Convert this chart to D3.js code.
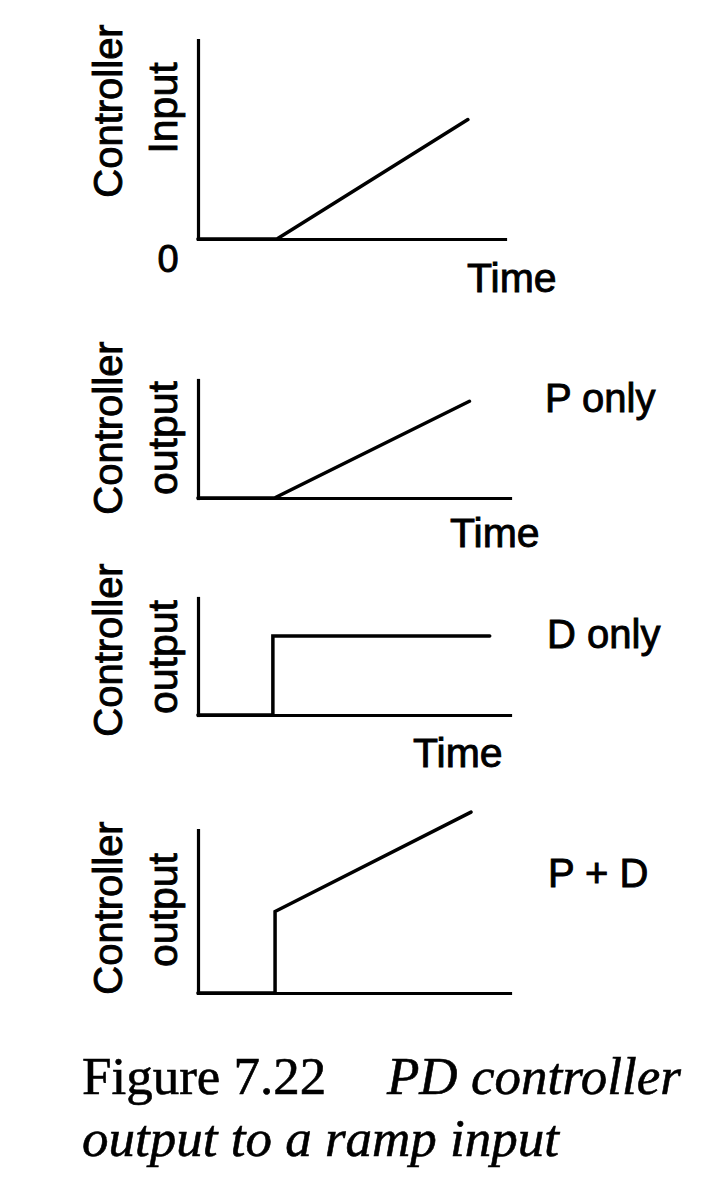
<!DOCTYPE html>
<html>
<head>
<meta charset="utf-8">
<script src="https://cdn.jsdelivr.net/npm/d3@7"></script>
<style>
  html, body { margin: 0; padding: 0; background: #fff; }
  svg { display: block; }
</style>
</head>
<body>
<svg id="chart" width="728" height="1199"></svg>
<script>
// ---- Data (abstract time units 0..10, output normalised to each panel's axis height) ----
const timeDomain = [0, 10];

const inputTime  = [0, 2.53, 8.65];
const inputValue = [0, 0, 0.60];

const pOnlyTime  = [0, 2.45, 8.7];
const pOnlyValue = [0, 0, 0.82];

const dOnlyTime  = [0, 2.4, 2.4, 9.35];
const dOnlyValue = [0, 0, 0.675, 0.675];

const pdTime     = [0, 2.47, 2.47, 8.75];
const pdValue    = [0, 0, 0.50, 1.11];

const yLabelLine1 = ["Controller", "Controller", "Controller", "Controller"];
const yLabelLine2 = ["Input", "output", "output", "output"];
const panelNames  = ["", "P only", "D only", "P + D"];
const xLabels     = ["Time", "Time", "Time", ""];
const zeroLabel   = "0";
const captionA    = "Figure 7.22";
const captionB    = "PD controller";
const captionC    = "output to a ramp input";

// ---- Layout ----
const svg = d3.select("#chart");
const sans = "'Liberation Sans', Arial, Helvetica, sans-serif";
const serif = "'Liberation Serif', 'Times New Roman', serif";

const panels = [
  { t: inputTime, v: inputValue, top: 40,  base: 239, end: 505, yl: 111, yl2: 108,
    name: null, timeX: 467, timeY: 292 },
  { t: pOnlyTime, v: pOnlyValue, top: 380, base: 498, end: 510, yl: 428, yl2: 438,
    name: [545, 412], timeX: 450, timeY: 547 },
  { t: dOnlyTime, v: dOnlyValue, top: 598, base: 715, end: 510, yl: 650, yl2: 657,
    name: [547, 648], timeX: 413, timeY: 767 },
  { t: pdTime,    v: pdValue,    top: 830, base: 993, end: 510, yl: 908, yl2: 910,
    name: [548, 887], timeX: null, timeY: null }
];

const axisX0 = 198;

function sansText(sel, size) {
  return sel.attr("font-family", sans).attr("font-size", size)
    .attr("fill", "#000").attr("stroke", "#000").attr("stroke-width", 0.9);
}

panels.forEach((p, i) => {
  const x = d3.scaleLinear().domain(timeDomain).range([axisX0, 510]);
  const xa = d3.scaleLinear().domain(timeDomain).range([axisX0, p.end]);
  const y = d3.scaleLinear().domain([0, 1]).range([p.base, p.top]);

  const g = svg.append("g");

  // axes (plain lines, no ticks)
  const xAxis = g.append("g")
    .attr("transform", `translate(0,${p.base})`)
    .call(d3.axisBottom(xa).tickValues([]).tickSizeOuter(0));
  const yAxis = g.append("g")
    .attr("transform", `translate(${axisX0},0)`)
    .call(d3.axisLeft(y).tickValues([]).tickSizeOuter(0));
  [xAxis, yAxis].forEach(a => a.select(".domain")
    .attr("stroke", "#000").attr("stroke-width", 3.2).attr("stroke-linecap", "square"));

  // series
  const pts = p.t.map((tv, k) => [tv, p.v[k]]);
  g.append("path")
    .datum(pts)
    .attr("fill", "none")
    .attr("stroke", "#000")
    .attr("stroke-width", 3.5)
    .attr("stroke-linejoin", "miter")
    .attr("stroke-linecap", "round")
    .attr("d", d3.line().x(d => x(d[0])).y(d => y(d[1])));

  // y labels (rotated)
  sansText(g.append("text")
    .attr("transform", `translate(122,${p.yl}) rotate(-90)`)
    .attr("text-anchor", "middle"), 40)
    .text(yLabelLine1[i]);
  sansText(g.append("text")
    .attr("transform", `translate(177,${p.yl2}) rotate(-90)`)
    .attr("text-anchor", "middle"), 41)
    .text(yLabelLine2[i]);

  // panel name
  if (p.name) {
    sansText(g.append("text").attr("x", p.name[0]).attr("y", p.name[1]), 40)
      .text(panelNames[i]);
  }
  // time label
  if (p.timeX !== null && xLabels[i]) {
    sansText(g.append("text").attr("x", p.timeX).attr("y", p.timeY), 41)
      .text(xLabels[i]);
  }
  if (i === 0) {
    sansText(g.append("text")
      .attr("x", 168).attr("y", 272)
      .attr("text-anchor", "middle"), 38)
      .text(zeroLabel);
  }
});

// caption
svg.append("text")
  .attr("x", 82).attr("y", 1094)
  .attr("font-family", serif).attr("font-size", 53).attr("fill", "#000")
  .attr("stroke", "#000").attr("stroke-width", 0.6)
  .text(captionA);
svg.append("text")
  .attr("x", 387).attr("y", 1094)
  .attr("font-family", serif).attr("font-size", 53).attr("font-style", "italic").attr("fill", "#000")
  .attr("stroke", "#000").attr("stroke-width", 0.6)
  .text(captionB);
svg.append("text")
  .attr("x", 82).attr("y", 1156)
  .attr("font-family", serif).attr("font-size", 53).attr("font-style", "italic").attr("fill", "#000")
  .attr("stroke", "#000").attr("stroke-width", 0.6)
  .text(captionC);
</script>
</body>
</html>
